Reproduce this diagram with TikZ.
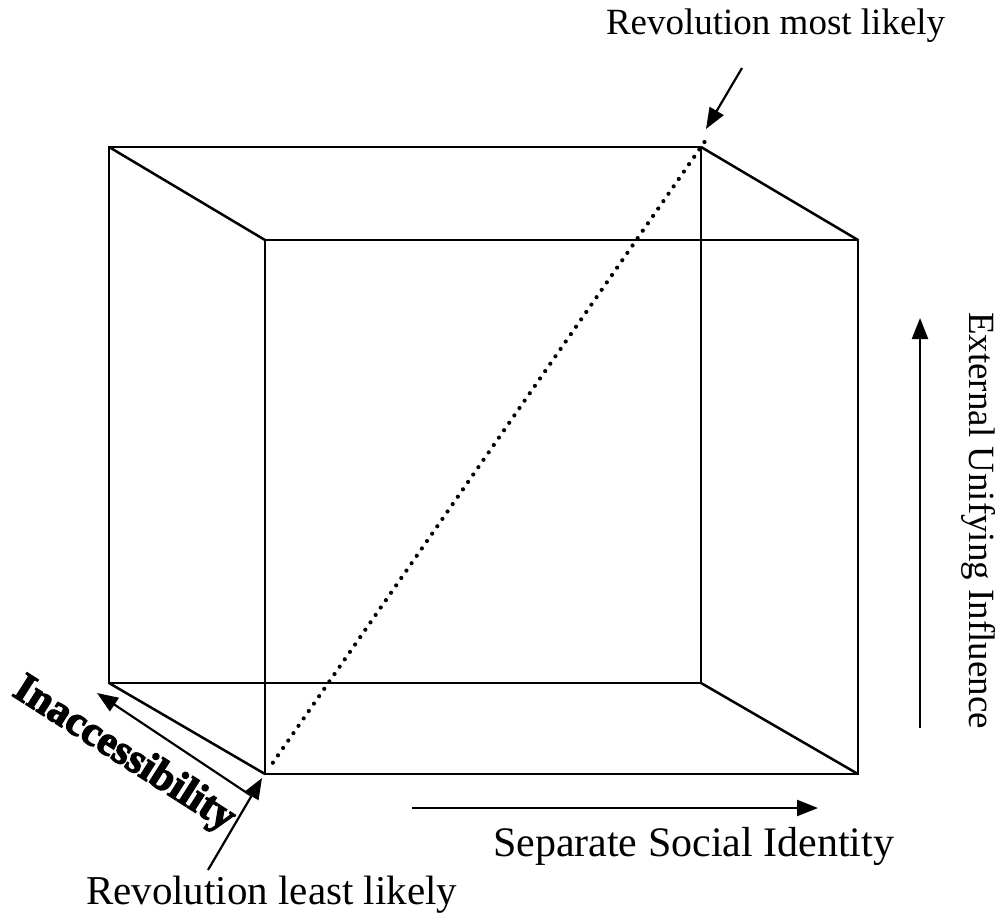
\documentclass[tikz,border=0pt]{standalone}
\usepackage{fontspec}
\setmainfont{Liberation Serif}
\newfontfamily\heavyfont{Liberation Serif Bold}[FakeBold=3]
\usetikzlibrary{arrows.meta,calc}
\begin{document}
\begin{tikzpicture}[x=1pt,y=1pt,
  edge/.style={line width=2.5pt},
  dots/.style={line width=4.2pt,line cap=round,dash pattern=on 0pt off 9pt},
  pointer/.style={line width=2.2pt,-{Triangle[length=21pt,width=16pt]}},
  lbl/.style={inner sep=0pt,outer sep=0pt}]
\useasboundingbox (0,0) rectangle (1003,-915);
% back rectangle corners
\coordinate (btl) at (109,-147);
\coordinate (btr) at (701,-147);
\coordinate (bbl) at (109,-683);
\coordinate (bbr) at (701,-683);
% front rectangle corners
\coordinate (ftl) at (265,-240);
\coordinate (ftr) at (858,-240);
\coordinate (fbl) at (265,-774);
\coordinate (fbr) at (858,-774);
\draw[edge] (btl) -- (btr) -- (bbr) -- (bbl) -- cycle;
\draw[edge] (ftl) -- (ftr) -- (fbr) -- (fbl) -- cycle;
\draw[edge] (btl) -- (ftl);
\draw[edge] (btr) -- (ftr);
\draw[edge] (bbl) -- (fbl);
\draw[edge] (bbr) -- (fbr);
% dotted diagonal
\coordinate (dend) at ($(fbl)!1.018!(btr)$);
\draw[dots] ($(fbl)!0.018!(btr)$) -- (dend);
% labels
\node[lbl,anchor=base west,font=\fontsize{37}{40}\selectfont] (most) at (606,-35) {Revolution most likely};
\node[lbl,anchor=base west,font=\fontsize{41}{44}\selectfont] (least) at (86,-904) {Revolution least likely};
\node[lbl,anchor=base west,font=\fontsize{42}{45}\selectfont] (sep) at (493,-856) {Separate Social Identity};
\node[lbl,anchor=base west,rotate=-90,font=\fontsize{37}{40}\selectfont] (ext) at (969,-312) {External Unifying Influence};
\node[lbl,anchor=base west,rotate=-32.5,font=\fontsize{42}{45}\heavyfont] (inacc) at (11,-695) {Inaccessibility};
% pointer arrows
\coordinate (mostS) at (742,-68);
\coordinate (mostE) at (706,-129);
\coordinate (leastS) at (208,-870);
\coordinate (leastE) at (262,-778);
\coordinate (inS) at (250,-795);
\coordinate (inE) at (97,-693);
\coordinate (sepS) at (412,-808);
\coordinate (sepE) at (818,-808);
\coordinate (extS) at (920,-728);
\coordinate (extE) at (920,-318);
\draw[pointer] (mostS) -- (mostE);
\draw[pointer] (leastS) -- (leastE);
\draw[pointer] (inS) -- (inE);
\draw[pointer] (sepS) -- (sepE);
\draw[pointer] (extS) -- (extE);
\end{tikzpicture}
\end{document}
